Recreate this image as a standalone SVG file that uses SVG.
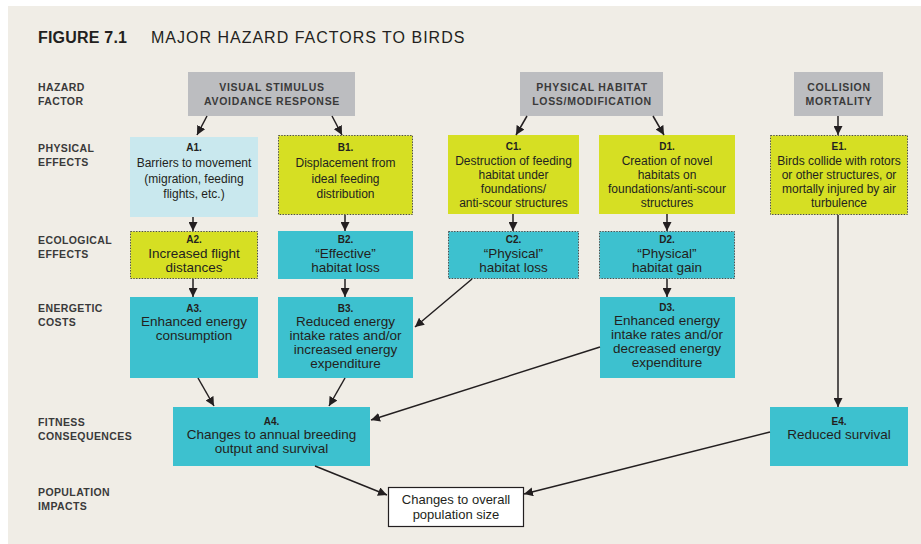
<svg xmlns="http://www.w3.org/2000/svg" width="921" height="544" viewBox="0 0 921 544">
<style>
.bg{fill:#f0ede6}
.haz{fill:#bcbdc0}
.yel{fill:#d6df23}
.teal{fill:#3dc1cf}
.lb{fill:#c9e8ee}
.dot{stroke:#4a4a4a;stroke-width:1;stroke-dasharray:1.4 1.4}
.row{font-family:"Liberation Sans",Arial,sans-serif;font-size:10.5px;font-weight:bold;fill:#3a3a3a;letter-spacing:0.4px}
.ht{font-family:"Liberation Sans",Arial,sans-serif;font-size:10.5px;font-weight:bold;fill:#3a3a3a;letter-spacing:0.7px;text-anchor:middle}
.id{font-family:"Liberation Sans",Arial,sans-serif;font-size:10px;font-weight:bold;fill:#231f20;text-anchor:middle}
.t2{font-family:"Liberation Sans",Arial,sans-serif;font-size:12px;fill:#231f20;text-anchor:middle}
.t3{font-family:"Liberation Sans",Arial,sans-serif;font-size:13.5px;fill:#231f20;text-anchor:middle}
.t4{font-family:"Liberation Sans",Arial,sans-serif;font-size:13px;fill:#231f20;text-anchor:middle}
.ln{stroke:#231f20;stroke-width:1.5;fill:none;marker-end:url(#ah)}
</style>
<defs>
<marker id="ah" markerUnits="userSpaceOnUse" markerWidth="10" markerHeight="9" refX="9" refY="4.5" orient="auto">
<path d="M0,0 L9,4.5 L0,9 Z" fill="#231f20"/>
</marker>
</defs>
<rect class="bg" x="8" y="6" width="913" height="538"/>
<text x="38" y="43" font-family="'Liberation Sans',Arial,sans-serif" font-size="16" font-weight="bold" fill="#231f20" letter-spacing="0.2">FIGURE 7.1</text>
<text x="151" y="43" font-family="'Liberation Sans',Arial,sans-serif" font-size="16" fill="#231f20" letter-spacing="1">MAJOR HAZARD FACTORS TO BIRDS</text>

<g id="row-labels">
<text class="row" x="38" y="91">HAZARD</text>
<text class="row" x="38" y="105">FACTOR</text>
<text class="row" x="38" y="152">PHYSICAL</text>
<text class="row" x="38" y="166">EFFECTS</text>
<text class="row" x="38" y="244">ECOLOGICAL</text>
<text class="row" x="38" y="258">EFFECTS</text>
<text class="row" x="38" y="312">ENERGETIC</text>
<text class="row" x="38" y="326">COSTS</text>
<text class="row" x="38" y="426">FITNESS</text>
<text class="row" x="38" y="440">CONSEQUENCES</text>
<text class="row" x="38" y="496">POPULATION</text>
<text class="row" x="38" y="510">IMPACTS</text>
</g>

<g id="hz-visual">
<rect class="haz" x="188" y="72" width="167" height="44"/>
<text class="ht" x="272" y="91">VISUAL STIMULUS</text>
<text class="ht" x="272" y="105">AVOIDANCE RESPONSE</text>
</g>
<g id="hz-physical">
<rect class="haz" x="520" y="72" width="143" height="44"/>
<text class="ht" x="592" y="91">PHYSICAL HABITAT</text>
<text class="ht" x="592" y="105">LOSS/MODIFICATION</text>
</g>
<g id="hz-collision">
<rect class="haz" x="794" y="72" width="89" height="44"/>
<text class="ht" x="839" y="91">COLLISION</text>
<text class="ht" x="839" y="105">MORTALITY</text>
</g>

<g id="A1">
<rect class="lb" x="130" y="137" width="128" height="80"/>
<text class="id" x="194" y="151">A1.</text>
<text class="t2" x="194" y="167">Barriers to movement</text>
<text class="t2" x="194" y="183">(migration, feeding</text>
<text class="t2" x="194" y="198">flights, etc.)</text>
</g>
<g id="B1">
<rect class="yel dot" x="278.5" y="135.5" width="134" height="79"/>
<text class="id" x="345.5" y="151">B1.</text>
<text class="t2" x="345.5" y="167">Displacement from</text>
<text class="t2" x="345.5" y="183">ideal feeding</text>
<text class="t2" x="345.5" y="198">distribution</text>
</g>
<g id="C1">
<rect class="yel" x="448" y="135" width="131" height="79"/>
<text class="id" x="513.5" y="150">C1.</text>
<text class="t2" x="513.5" y="165">Destruction of feeding</text>
<text class="t2" x="513.5" y="179">habitat under</text>
<text class="t2" x="513.5" y="193">foundations/</text>
<text class="t2" x="513.5" y="207">anti-scour structures</text>
</g>
<g id="D1">
<rect class="yel" x="599" y="135" width="136" height="79"/>
<text class="id" x="667" y="150">D1.</text>
<text class="t2" x="667" y="165">Creation of novel</text>
<text class="t2" x="667" y="179">habitats on</text>
<text class="t2" x="667" y="193">foundations/anti-scour</text>
<text class="t2" x="667" y="207">structures</text>
</g>
<g id="E1">
<rect class="yel dot" x="770.5" y="135.5" width="137" height="79"/>
<text class="id" x="839" y="150">E1.</text>
<text class="t2" x="839" y="165">Birds collide with rotors</text>
<text class="t2" x="839" y="179">or other structures, or</text>
<text class="t2" x="839" y="193">mortally injured by air</text>
<text class="t2" x="839" y="207">turbulence</text>
</g>

<g id="A2">
<rect class="yel dot" x="130.5" y="231.5" width="127" height="47"/>
<text class="id" x="194" y="243" font-size="11">A2.</text>
<text class="t3" x="194" y="258">Increased flight</text>
<text class="t3" x="194" y="272">distances</text>
</g>
<g id="B2">
<rect class="teal" x="278" y="231" width="135" height="48"/>
<text class="id" x="345.5" y="243" font-size="11">B2.</text>
<text class="t3" x="345.5" y="258">“Effective”</text>
<text class="t3" x="345.5" y="272">habitat loss</text>
</g>
<g id="C2">
<rect class="teal dot" x="448.5" y="231.5" width="130" height="47"/>
<text class="id" x="513.5" y="243" font-size="11">C2.</text>
<text class="t3" x="513.5" y="258">“Physical”</text>
<text class="t3" x="513.5" y="272">habitat loss</text>
</g>
<g id="D2">
<rect class="teal dot" x="599.5" y="231.5" width="135" height="47"/>
<text class="id" x="667" y="243" font-size="11">D2.</text>
<text class="t3" x="667" y="258">“Physical”</text>
<text class="t3" x="667" y="272">habitat gain</text>
</g>

<g id="A3">
<rect class="teal" x="130" y="297" width="128" height="81"/>
<text class="id" x="194" y="312" font-size="11">A3.</text>
<text class="t3" x="194" y="326">Enhanced energy</text>
<text class="t3" x="194" y="340">consumption</text>
</g>
<g id="B3">
<rect class="teal" x="278" y="297" width="135" height="81"/>
<text class="id" x="345.5" y="312" font-size="11">B3.</text>
<text class="t3" x="345.5" y="326">Reduced energy</text>
<text class="t3" x="345.5" y="340">intake rates and/or</text>
<text class="t3" x="345.5" y="354">increased energy</text>
<text class="t3" x="345.5" y="368">expenditure</text>
</g>
<g id="D3">
<rect class="teal" x="600" y="297" width="135" height="81"/>
<text class="id" x="667" y="311" font-size="11">D3.</text>
<text class="t3" x="667" y="325">Enhanced energy</text>
<text class="t3" x="667" y="339">intake rates and/or</text>
<text class="t3" x="667" y="353">decreased energy</text>
<text class="t3" x="667" y="367">expenditure</text>
</g>

<g id="A4">
<rect class="teal" x="173" y="407" width="197" height="59"/>
<text class="id" x="271.5" y="425" font-size="11">A4.</text>
<text class="t3" x="271.5" y="439">Changes to annual breeding</text>
<text class="t3" x="271.5" y="453">output and survival</text>
</g>
<g id="E4">
<rect class="teal" x="770" y="407" width="138" height="59"/>
<text class="id" x="839" y="425" font-size="11">E4.</text>
<text class="t3" x="839" y="439">Reduced survival</text>
</g>
<g id="POP">
<rect x="388.5" y="487.5" width="135" height="39" fill="#fff" stroke="#231f20" stroke-width="1.2"/>
<text class="t4" x="456" y="504">Changes to overall</text>
<text class="t4" x="456" y="519">population size</text>
</g>

<g id="connectors">
<line class="ln" x1="207" y1="116" x2="197" y2="135"/>
<line class="ln" x1="332" y1="116" x2="342" y2="135"/>
<line class="ln" x1="527" y1="116" x2="516" y2="135"/>
<line class="ln" x1="653" y1="116" x2="664" y2="135"/>
<line class="ln" x1="838" y1="116" x2="838" y2="135"/>
<line class="ln" x1="193" y1="217" x2="193" y2="231"/>
<line class="ln" x1="345" y1="215" x2="345" y2="231"/>
<line class="ln" x1="513" y1="214" x2="513" y2="231"/>
<line class="ln" x1="667" y1="214" x2="667" y2="231"/>
<line class="ln" x1="193" y1="279" x2="193" y2="297"/>
<line class="ln" x1="345" y1="279" x2="345" y2="297"/>
<line class="ln" x1="667" y1="279" x2="667" y2="297"/>
<line class="ln" x1="472" y1="279" x2="415" y2="327"/>
<line class="ln" x1="838" y1="215" x2="838" y2="407"/>
<line class="ln" x1="198" y1="378" x2="214" y2="406"/>
<line class="ln" x1="345" y1="378" x2="329" y2="406"/>
<line class="ln" x1="600" y1="347" x2="371" y2="420"/>
<line class="ln" x1="315" y1="466" x2="387" y2="495"/>
<line class="ln" x1="770" y1="432" x2="524" y2="494"/>
</g>
</svg>
